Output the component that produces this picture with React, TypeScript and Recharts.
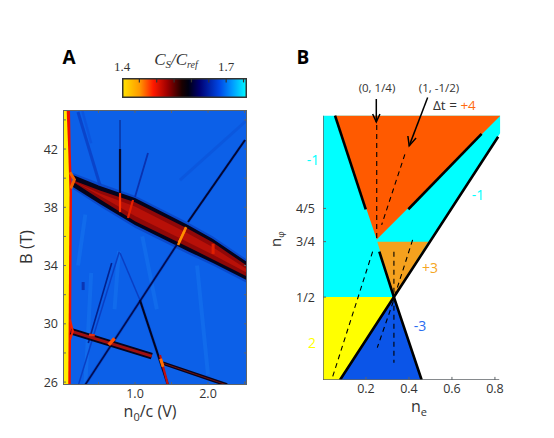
import React from "react";
import { ComposedChart, Area, Line, XAxis, YAxis } from "recharts";

type P = [number, number];
const W = 554, H = 438;

// ---------- Panel A: data ----------
const aXTicks = [1.0, 2.0];
const aYTicks = [26, 30, 34, 38, 42];
const aXMinor = [0.5, 1.0, 1.5, 2.0, 2.5];
const aYMinor = [26, 28, 30, 32, 34, 36, 38, 40, 42, 44];
const aXDomain: P = [0.014, 2.534];
const aYDomain: P = [25.8, 44.68];
const bandX = [0.15, 0.52, 1.0, 1.726, 2.068, 2.534];
const bandGlowLo = [39.25, 38.05, 36.6, 34.8, 34.0, 32.8];
const bandGlowHi = [40.35, 39.65, 38.8, 36.95, 36.0, 34.4];
const bandOuterLo = [39.39, 38.22, 36.78, 34.99, 34.17, 33.0];
const bandOuterHi = [40.21, 39.46, 38.63, 36.78, 35.82, 34.24];
const bandInnerLo = [39.75, 38.55, 37.05, 35.28, 34.42, 33.25];
const bandInnerHi = [39.85, 39.15, 38.35, 36.52, 35.58, 33.98];
const bandCoreLo = [39.8, 38.8, 37.4, 35.6, 34.75, 33.5];
const bandCoreHi = [39.8, 38.95, 38.05, 36.2, 35.25, 33.75];
const leftRedX = [0.014, 0.11, 0.12, 0.137];
const leftYellowX = [0.014, 0.064, 0.086, 0.103];
const leftEdgeLo = [25.8, 25.8, 25.8, 39];
const leftEdgeHi = [44.68, 44.68, 41.9, 39];
const lowerBand1: P[] = [[0.12, 29.5], [1.23, 27.78]];
const lowerBand2: P[] = [[1.38, 27.3], [2.26, 25.8]];
const bulge: P[] = [[0.11, 40.4], [0.17, 39.9], [0.12, 39.3]];
const bulgeLow: P[] = [[0.11, 30.3], [0.15, 29.5], [0.11, 28.9]];
const fanLeft: P[] = [[0.219, 44.54], [0.52, 39.53]];
const fanLeftB: P[] = [[0.28, 44.6], [0.4, 42.4]];
const spikeTop: P[] = [[0.795, 43.99], [0.795, 42.0]];
const spike: P[] = [[0.795, 42.0], [0.795, 38.98]];
const spikeRed: P[] = [[0.795, 38.98], [0.795, 37.67]];
const spike2: P[] = [[1.178, 41.73], [1.0, 38.7]];
const spike2Red: P[] = [[0.973, 38.5], [0.904, 37.26]];
const rightBlack: P[] = [[2.507, 42.62], [1.726, 36.99]];
const rightOrange: P[] = [[1.7, 36.64], [1.59, 35.41]];
const rightFaint: P[] = [[1.616, 39.87], [2.534, 43.99]];
const l1Faint: P[] = [[0.785, 34.95], [0.223, 25.77]];
const l1Dark: P[] = [[0.681, 34.17], [0.36, 28.68]];
const l2: P[] = [[1.571, 35.41], [0.315, 25.79]];
const l3Faint: P[] = [[0.795, 34.86], [1.068, 31.63]];
const l3: P[] = [[1.068, 31.63], [1.452, 25.79]];
const l3Red: P[] = [[1.342, 27.85], [1.452, 25.79]];
const lightStreaks: P[][] = [
  [[0.78, 35.0], [0.72, 31.0]],
  [[0.4, 33.5], [0.32, 25.8]],
  [[1.1, 36.0], [1.3, 31.0]],
  [[1.85, 34.0], [2.0, 26.5]],
  [[0.32, 37.5], [0.22, 34.0]],
];
const blob: P[] = [[0.29, 32.87], [0.29, 32.32]];
const spotA: P[] = [[0.64, 28.55], [0.72, 29.0]];
const spotB: P[] = [[0.37, 29.25], [0.45, 29.2]];
const spotC: P[] = [[1.35, 27.6], [1.385, 27.05]];
const spotD: P[] = [[1.68, 36.4], [1.6, 35.6]];
const spotE: P[] = [[2.07, 35.5], [2.07, 34.8]];

// ---------- Colour bar: data ----------
const cbDomain: P = [1.4, 1.76];
const cbLabels = [1.4, 1.7];
const cbMarks = [1.45, 1.5, 1.55, 1.6, 1.65, 1.7, 1.75];
const cbStops: [number, string][] = [
  [0, "#ffe600"], [0.14, "#ff9a00"], [0.25, "#ff1a00"], [0.36, "#a00000"],
  [0.48, "#1a0000"], [0.53, "#000010"], [0.62, "#000070"], [0.78, "#0048e6"],
  [0.88, "#0098ff"], [1, "#00ffff"],
];

// ---------- Panel B: data ----------
const bXTicks = [0.2, 0.4, 0.6, 0.8];
const bYTicks = [0.5, 0.75, 0.9];
const bYLabels = ["1/2", "3/4", "4/5"];
const bXDomain: P = [0, 0.825];
const bYDomain: P = [0.126, 1.434];
const yTop = 1.318, yBot = 0.126;
const cyanX = [0, 0.33, 0.825];
const cyanLo = [0.5, 0.5, 1.24];
const cyanHi = [yTop, yTop, yTop];
const orangeX = [0.056, 0.25, 0.825];
const orangeLo = [yTop, 0.76, yTop];
const orangeHi = [yTop, yTop, yTop];
const ltOrangeX = [0.2526, 0.33, 0.49];
const ltOrangeLo = [0.75, 0.5, 0.75];
const ltOrangeHi = [0.75, 0.75, 0.75];
const yellowX = [0, 0.079, 0.33];
const yellowLo = [yBot, yBot, 0.5];
const yellowHi = [0.5, 0.5, 0.5];
const blueX = [0.079, 0.33, 0.459];
const blueLo = [yBot, yBot, yBot];
const blueHi = [yBot, 0.5, yBot];
const thick: P[][] = [
  [[0.056, yTop], [0.199, 0.896]],
  [[0.738, 1.236], [0.397, 0.896]],
  [[0.815, 1.223], [0.33, 0.5], [0.079, yBot]],
  [[0.262, 0.705], [0.33, 0.5], [0.459, yBot]],
];
const dashed: P[][] = [
  [[0.25, 1.276], [0.25, 0.76]],
  [[0.381, 1.144], [0.273, 0.826]],
  [[0.231, 0.705], [0.04, yBot]],
  [[0.33, 0.705], [0.33, 0.204]],
  [[0.417, 0.758], [0.335, 0.51]],
  [[0.327, 0.48], [0.2526, 0.272]],
];
const arrows: P[][] = [
  [[0.248, 1.393], [0.248, 1.29]],
  [[0.231, 1.3257], [0.248, 1.29], [0.265, 1.3257]],
  [[0.487, 1.4], [0.401, 1.182]],
  [[0.433, 1.2176], [0.401, 1.182], [0.395, 1.2266]],
];

const rows = (xs: number[], lo: number[], hi: number[]) =>
  xs.map((x, i) => ({ x, r: [lo[i], hi[i]] }));
const pts = (p: P[]) => p.map(([x, y]) => ({ x, y }));

const font = "'Open Sans', sans-serif";
const serif = "'Liberation Serif', serif";
const GREY = "#5f6468";
const TXT = "#333333";

const seg = (key: string, p: P[], color: string, width: number, opts: any = {}) => (
  <Line key={key} data={pts(p)} dataKey="y" type="linear" stroke={color} strokeWidth={width}
    dot={false} activeDot={false} legendType="none" isAnimationActive={false} {...opts} />
);
const poly = (key: string, xs: number[], lo: number[], hi: number[], color: string, opts: any = {}) => (
  <Area key={key} data={rows(xs, lo, hi)} dataKey="r" type="linear" fill={color} fillOpacity={1}
    stroke="none" dot={false} activeDot={false} legendType="none" isAnimationActive={false} {...opts} />
);

const XTick = (props: any) => (
  <text x={props.x} y={props.y + 13} textAnchor="middle" fontFamily={font} fontSize={12.5} fill={TXT}>
    {props.payload.value.toFixed(1)}
  </text>
);
const AYTick = (props: any) => (
  <text x={props.x - 5} y={props.y + 4.5} textAnchor="end" fontFamily={font} fontSize={12.5} fill={TXT}>
    {props.payload.value}
  </text>
);
const BYTick = (props: any) => (
  <text x={props.x - 8} y={props.y + 4.5} textAnchor="end" fontFamily={font} fontSize={12.5} fill={TXT}>
    {bYLabels[bYTicks.indexOf(props.payload.value)]}
  </text>
);
const CbTick = (props: any) => (
  <text x={props.x} y={props.y - 7} textAnchor="middle" fontFamily={serif} fontSize={13} fill={TXT}>
    {props.payload.value.toFixed(1)}
  </text>
);

const T = ({ x, y, c = TXT, s = 14, a = "middle", children, ...r }: any) => (
  <text x={x} y={y} fill={c} fontSize={s} textAnchor={a} fontFamily={font} {...r}>{children}</text>
);

const PanelA = () => (
  <ComposedChart width={W} height={H} margin={{ left: 62, right: 307, top: 110, bottom: 52 }}
    style={{ position: "absolute", left: 0, top: 0 }}>
    <XAxis type="number" dataKey="x" domain={aXDomain} ticks={aXTicks} allowDataOverflow height={1}
      tickSize={0} tickMargin={0} axisLine={false} tickLine={false} interval={0} tick={<XTick />} />
    <YAxis type="number" domain={aYDomain} ticks={aYTicks} allowDataOverflow width={1}
      tickSize={0} tickMargin={0} axisLine={false} tickLine={false} interval={0} tick={<AYTick />} />
    {poly("bg", aXDomain as number[], [aYDomain[0], aYDomain[0]], [aYDomain[1], aYDomain[1]], "#0c60e8", { className: "crisp" })}
    {lightStreaks.map((d, i) => seg(`ls${i}`, d, "#1f8cf8", 4, { strokeOpacity: 0.25 }))}
    {seg("f1", fanLeft, "#0a3fc4", 3, { strokeOpacity: 0.85 })}
    {seg("f1b", fanLeftB, "#0a4ad4", 2.5, { strokeOpacity: 0.45 })}
    {seg("rf", rightFaint, "#0a4ccf", 3, { strokeOpacity: 0.4 })}
    {seg("l1f", l1Faint, "#0a3fc4", 1.5)}
    {seg("l1d", l1Dark, "#03208c", 1.6)}
    {seg("l3f", l3Faint, "#0a3fc4", 1.5)}
    {seg("l2h", l2, "#0a3ab8", 3, { strokeOpacity: 0.5 })}
    {seg("l3h", l3, "#0a3ab8", 3, { strokeOpacity: 0.5 })}
    {seg("l2", l2, "#020c50", 1.7)}
    {seg("l3", l3, "#020420", 2)}
    {seg("blob", blob, "#0a36b4", 3)}
    {seg("spt", spikeTop, "#0a2a90", 1.2)}
    {seg("sp", spike, "#060a30", 2.2)}
    {seg("sp2", spike2, "#0a32b0", 1.8)}
    {seg("rbh", rightBlack, "#0a3ab8", 3, { strokeOpacity: 0.5 })}
    {seg("rb", rightBlack, "#020630", 1.9)}
    {poly("bg2", bandX, bandGlowLo, bandGlowHi, "#0a3ab8", { fillOpacity: 0.6 })}
    {poly("bo", bandX, bandOuterLo, bandOuterHi, "#04041c")}
    {poly("bi", bandX, bandInnerLo, bandInnerHi, "#8f0808")}
    {poly("bc", bandX, bandCoreLo, bandCoreHi, "#b81008")}
    {seg("lb1o", lowerBand1, "#06041c", 6.5)}
    {seg("lb1i", lowerBand1, "#a01010", 3)}
    {seg("lb2o", lowerBand2, "#06041c", 3.6)}
    {seg("lb2i", lowerBand2, "#701010", 1)}
    {seg("l3r", l3Red, "#c01010", 2.2)}
    {seg("spr", spikeRed, "#ff3000", 2.2)}
    {seg("sp2r", spike2Red, "#e82000", 2.2)}
    {seg("ro", rightOrange, "#ff8000", 2.6)}
    {seg("sa", spotA, "#ff5000", 3.5)}
    {seg("sb", spotB, "#e03010", 2.5)}
    {seg("sc", spotC, "#ff7000", 3)}
    {seg("sd", spotD, "#ff9000", 2)}
    {seg("se", spotE, "#e02000", 3)}
    {seg("bu", bulge, "#f06000", 3)}
    {seg("bul", bulgeLow, "#f02000", 2)}
    {poly("lr", leftRedX, leftEdgeLo, leftEdgeHi, "#f01000")}
    {poly("ly", leftYellowX, leftEdgeLo, leftEdgeHi, "#ffee00")}
    {aYMinor.map((v) => seg(`yl${v}`, [[aXDomain[0], v], [aXDomain[0] + 0.04, v]], GREY, 1, { className: "crisp" }))}
    {aYMinor.map((v) => seg(`yr${v}`, [[aXDomain[1], v], [aXDomain[1] - 0.04, v]], GREY, 1, { className: "crisp" }))}
    {aXMinor.map((v) => seg(`xb${v}`, [[v, aYDomain[0]], [v, aYDomain[0] + 0.2]], GREY, 1, { className: "crisp" }))}
    {aXMinor.map((v) => seg(`xt${v}`, [[v, aYDomain[1]], [v, aYDomain[1] - 0.2]], GREY, 1, { className: "crisp" }))}
    {seg("frame", [[aXDomain[0], aYDomain[0]], [aXDomain[1], aYDomain[0]], [aXDomain[1], aYDomain[1]], [aXDomain[0], aYDomain[1]], [aXDomain[0], aYDomain[0]]], GREY, 2, { className: "crisp" })}
  </ComposedChart>
);

const ColorBar = () => (
  <ComposedChart width={W} height={H} margin={{ left: 122, right: 307, top: 77, bottom: 340 }}
    style={{ position: "absolute", left: 0, top: 0 }}>
    <defs>
      <linearGradient id="cb" x1="0" x2="1" y1="0" y2="0">
        {cbStops.map(([o, c]) => <stop key={o} offset={o} stopColor={c} />)}
      </linearGradient>
    </defs>
    <XAxis type="number" dataKey="x" orientation="top" domain={cbDomain} ticks={cbLabels} allowDataOverflow height={1}
      tickSize={0} tickMargin={0} axisLine={false} tickLine={false} interval={0} tick={<CbTick />} />
    <YAxis type="number" domain={[0, 1]} hide allowDataOverflow width={0} />
    {poly("cbf", cbDomain as number[], [0, 0], [1, 1], "url(#cb)")}
    {cbMarks.map((v) => seg(`m${v}`, [[v, 1], [v, 0.78]], "#333", 1.2))}
    {seg("cbb", [[cbDomain[0], 0], [cbDomain[1], 0], [cbDomain[1], 1], [cbDomain[0], 1], [cbDomain[0], 0]], "#333", 3)}
  </ComposedChart>
);

const PanelB = () => (
  <ComposedChart width={W} height={H} margin={{ left: 322, right: 53.7, top: 90, bottom: 57 }}
    style={{ position: "absolute", left: 0, top: 0 }}>
    <XAxis type="number" dataKey="x" domain={bXDomain} ticks={bXTicks} allowDataOverflow height={1}
      tickSize={0} tickMargin={0} axisLine={false} tickLine={false} interval={0} tick={<XTick />} />
    <YAxis type="number" domain={bYDomain} ticks={bYTicks} allowDataOverflow width={1}
      tickSize={0} tickMargin={0} axisLine={false} tickLine={false} interval={0} tick={<BYTick />} />
    {poly("cy", cyanX, cyanLo, cyanHi, "#00ffff")}
    {poly("or", orangeX, orangeLo, orangeHi, "#ff5a00")}
    {poly("lo", ltOrangeX, ltOrangeLo, ltOrangeHi, "#f5a11e")}
    {poly("ye", yellowX, yellowLo, yellowHi, "#ffff00")}
    {poly("bl", blueX, blueLo, blueHi, "#0b55e8")}
    {dashed.map((d, i) => seg(`d${i}`, d, "#000", 1.1, { strokeDasharray: "5 4" }))}
    {thick.map((d, i) => seg(`t${i}`, d, "#000", 2.6))}
    {arrows.map((d, i) => seg(`a${i}`, d, "#000", 1.5))}
    {seg("ax", [[0, yTop], [0, yBot], [0.82, yBot]], GREY, 1.5)}
    {bXTicks.map((v) => seg(`bx${v}`, [[v, yBot], [v, yBot + 0.014]], GREY, 1))}
    {bYTicks.map((v) => seg(`by${v}`, [[0, v], [0.014, v]], GREY, 1))}
  </ComposedChart>
);

const Labels = () => (
  <svg width={W} height={H} style={{ position: "absolute", left: 0, top: 0 }}>
    <T x={69} y={63.5} s={19} fontWeight={700} c="#000">A</T>
    <T x={303} y={63.5} s={19} fontWeight={700} c="#000">B</T>
    <text x={176} y={65} textAnchor="middle" fontFamily={serif} fontStyle="italic" fontSize={17} fill={TXT}>
      C<tspan fontSize={11} dy={3}>S</tspan><tspan dy={-3}>/C</tspan><tspan fontSize={10} dy={3}>ref</tspan>
    </text>
    <T x={150} y={417} s={16}>n<tspan fontSize={11} dy={4}>0</tspan><tspan dy={-4}>/c (V)</tspan></T>
    <T x={0} y={0} s={16.5} transform="translate(32 247) rotate(-90)">B (T)</T>
    <T x={0} y={0} s={15} a="start" transform="translate(281 247) rotate(-90)">n<tspan fontSize={9} dy={3}>φ</tspan></T>
    <T x={419} y={412} s={16}>n<tspan fontSize={11} dy={4}>e</tspan></T>
    <T x={377} y={92} s={11.5}>(0, 1/4)</T>
    <T x={439} y={92} s={11.5}>(1, -1/2)</T>
    <T x={433} y={110} s={13.5} a="start">Δt = <tspan fill="#ff6a10">+4</tspan></T>
    <T x={313} y={165} s={14} c="#00ffff">-1</T>
    <T x={478} y={200} s={14} c="#00ffff">-1</T>
    <T x={430} y={273} s={14} c="#f5a623">+3</T>
    <T x={420} y={331} s={14} c="#2a6cf0">-3</T>
    <T x={312} y={348} s={14} c="#ffff00">2</T>
  </svg>
);

const css = `.soft .recharts-line:not(.crisp), .soft .recharts-area:not(.crisp) { filter: blur(0.6px); }`;

export default function App() {
  return (
    <div style={{ position: "absolute", left: 0, top: 0, width: W, height: H, background: "#fff", overflow: "hidden" }}>
      <style>{css}</style>
      <div className="soft"><PanelA /></div>
      <ColorBar />
      <PanelB />
      <Labels />
    </div>
  );
}
